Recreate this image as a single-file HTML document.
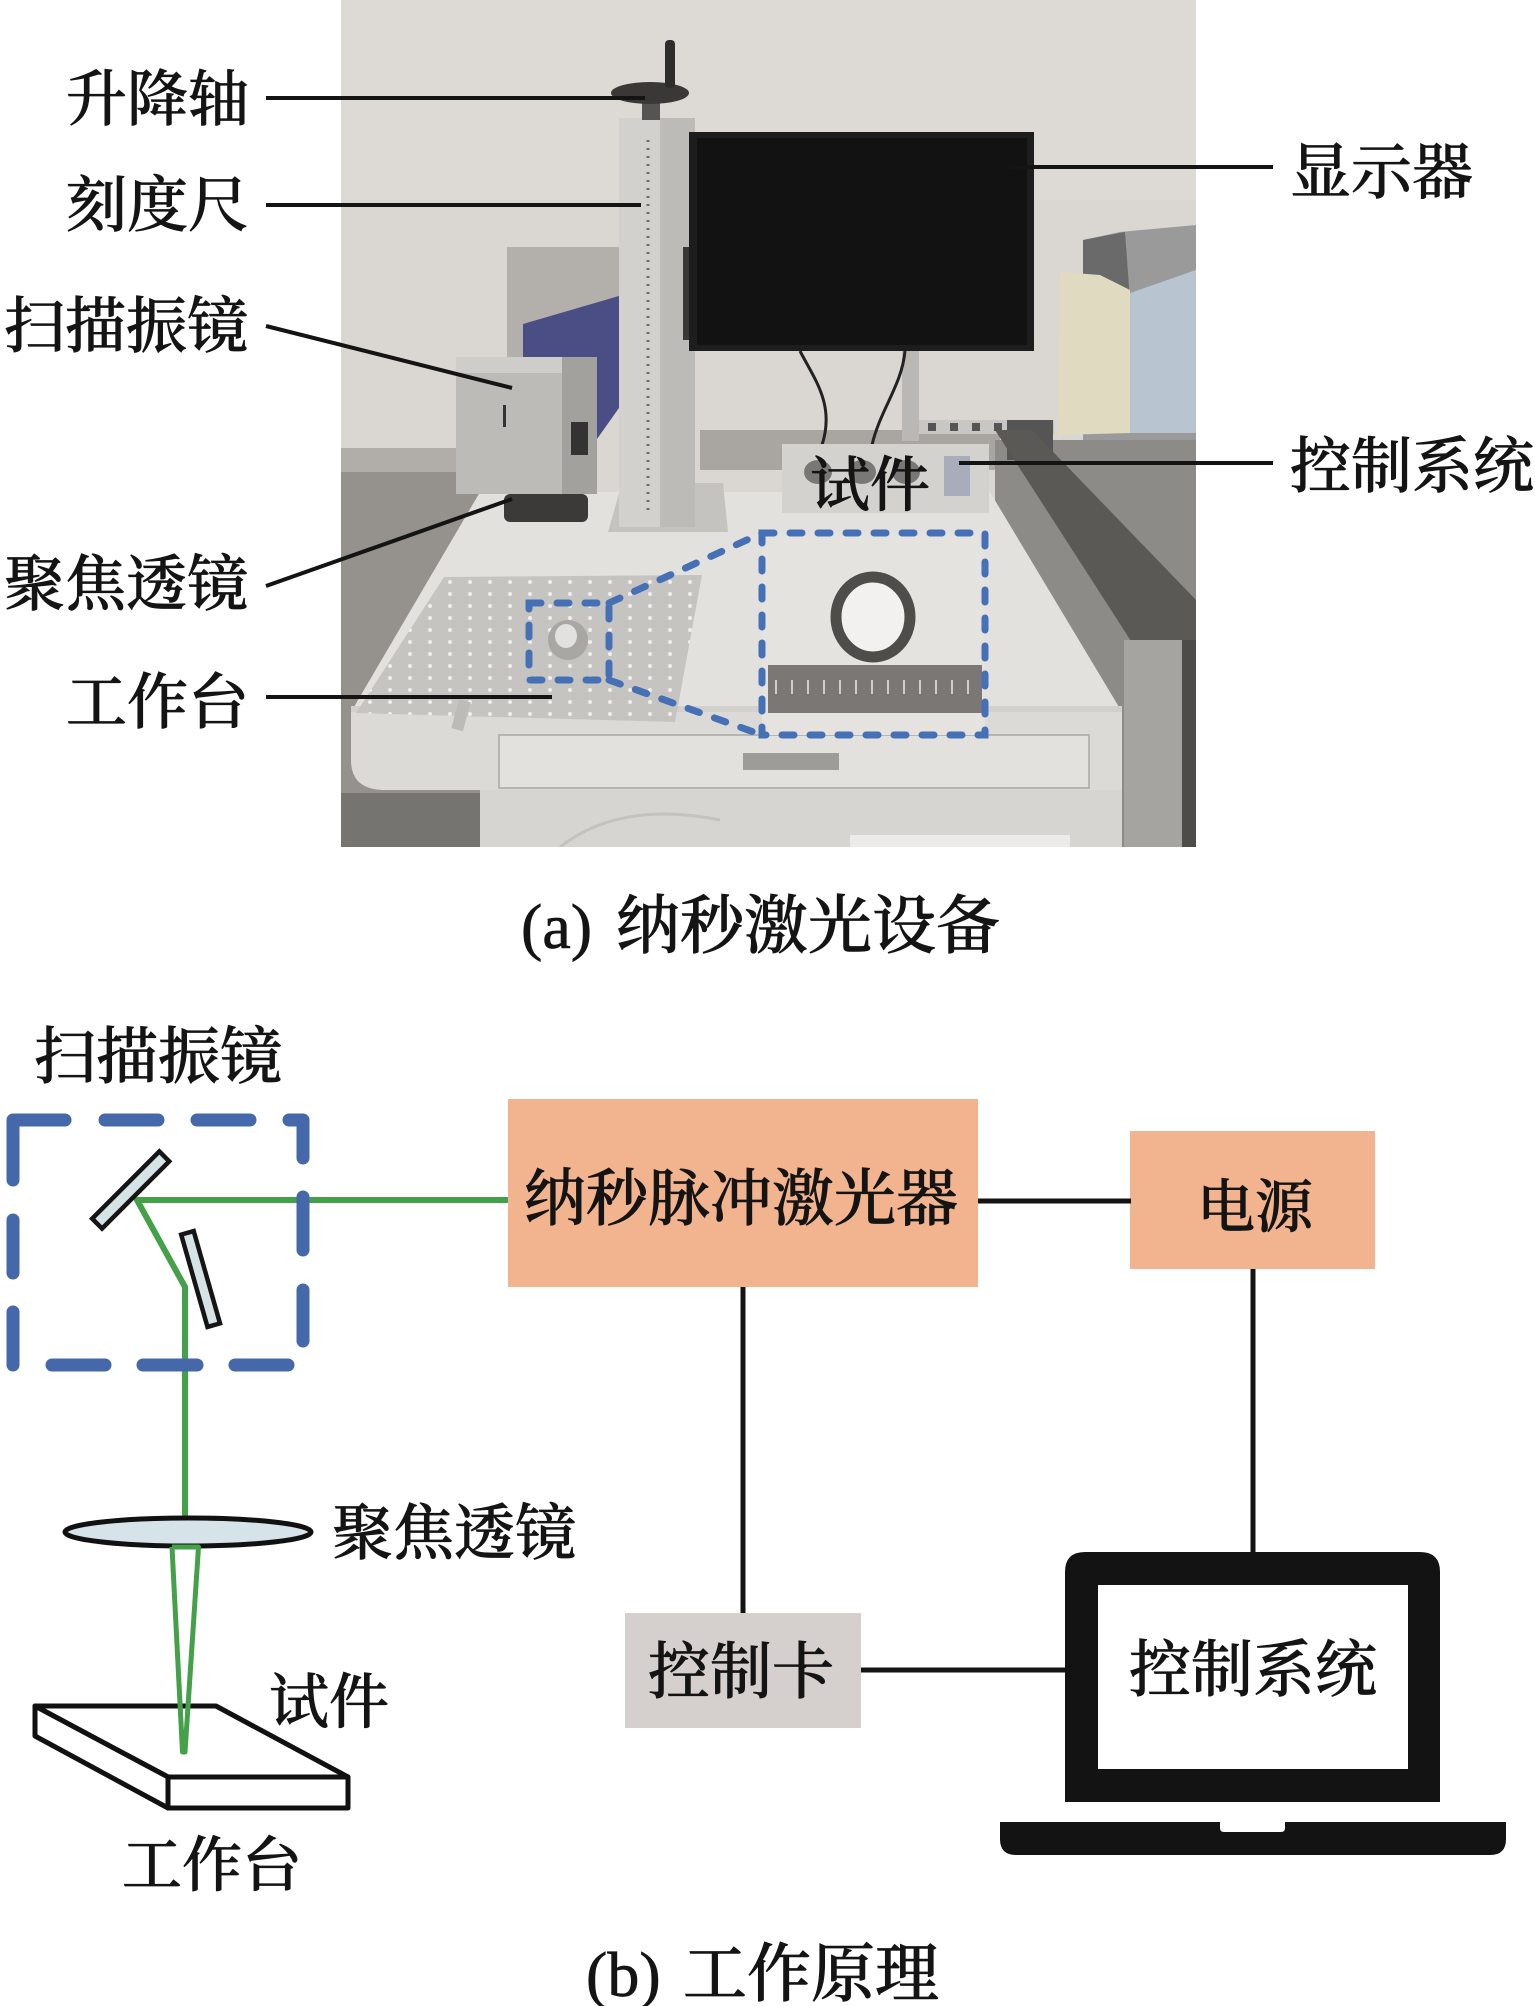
<!DOCTYPE html>
<html><head><meta charset="utf-8"><style>
html,body{margin:0;padding:0;background:#fff;}
svg{display:block;}
text{font-family:"Liberation Serif","Noto Serif CJK SC","Noto Sans CJK SC",serif;fill:#141414;font-weight:500;stroke:#141414;stroke-width:0.7px;}
</style></head><body>
<svg width="1535" height="2006" viewBox="0 0 1535 2006" xmlns="http://www.w3.org/2000/svg">
<defs>
<clipPath id="ph"><rect x="341" y="0" width="855" height="847"/></clipPath>
<pattern id="dots" x="0" y="0" width="20" height="12" patternUnits="userSpaceOnUse">
<rect width="20" height="12" fill="#c6c4c1"/>
<circle cx="10" cy="6" r="2" fill="#efeeec"/>
</pattern>
<pattern id="ticks" x="0" y="0" width="16" height="48" patternUnits="userSpaceOnUse">
<rect width="16" height="48" fill="#7a7774"/>
<rect x="7" y="8" width="2" height="14" fill="#d0cecb"/>
</pattern>
</defs>

<!-- ================= PHOTO ================= -->
<g clip-path="url(#ph)">
<rect x="341" y="0" width="855" height="847" fill="#dad7d2"/>
<rect x="341" y="0" width="855" height="200" fill="#dddad6"/>
<!-- left wall lower -->
<rect x="341" y="448" width="180" height="24" fill="#b1aeaa"/>
<rect x="341" y="472" width="150" height="330" fill="#95928e"/>
<!-- back gray plate -->
<rect x="507" y="247" width="126" height="110" fill="#b3b0ac"/>
<!-- blue housing -->
<polygon points="523,324 636,291 636,384 597,439 570,420 523,357" fill="#4b4d85"/>
<!-- back band behind table -->
<rect x="700" y="430" width="300" height="40" fill="#a9a6a2"/>
<!-- monitor stand & cables -->
<rect x="902" y="351" width="17" height="90" fill="#bab8b5"/>
<path d="M800 351 C815 380 835 405 822 445" stroke="#222" stroke-width="3" fill="none"/>
<path d="M905 351 C902 385 880 410 872 445" stroke="#222" stroke-width="3" fill="none"/>
<!-- sockets -->
<rect x="919" y="420" width="135" height="14" fill="#c9c7c4"/>
<g fill="#555"><rect x="928" y="423" width="8" height="8"/><rect x="950" y="423" width="8" height="8"/><rect x="972" y="423" width="8" height="8"/><rect x="994" y="423" width="8" height="8"/><rect x="1016" y="423" width="8" height="8"/><rect x="1038" y="423" width="8" height="8"/></g>
<!-- right objects -->
<polygon points="1083,240 1120,232 1196,225 1196,440 1083,440" fill="#9a9a9a"/>
<polygon points="1083,240 1125,232 1130,300 1083,290" fill="#6a6a6a"/>
<polygon points="1130,293 1196,270 1196,433 1130,433" fill="#b8c4d0"/>
<polygon points="1060,272 1100,275 1130,290 1130,433 1058,435" fill="#e0dac0"/>
<!-- stainless right -->
<rect x="995" y="440" width="201" height="407" fill="#8d8b88"/>
<rect x="1007" y="420" width="46" height="40" fill="#555"/>
<polygon points="995,430 1032,430 1196,600 1196,655 1140,655" fill="#5b5956"/>
<rect x="1124" y="640" width="72" height="207" fill="#a6a4a1"/>
<rect x="1182" y="640" width="14" height="207" fill="#4e4c49"/>
<!-- table top -->
<polygon points="480,492 990,492 1122,712 351,712" fill="#e3e1de"/>
<rect x="351" y="706" width="771" height="14" fill="#d2d0cd"/>
<!-- cabinet front -->
<path d="M351 712 L1122 712 L1122 790 L385 790 Q351 790 351 760 Z" fill="#dcdad7"/>
<rect x="480" y="790" width="642" height="57" fill="#d7d5d2"/>
<path d="M560 847 Q620 800 720 820" stroke="#c4c2bf" stroke-width="3" fill="none"/>
<rect x="850" y="835" width="220" height="12" fill="#ecebe9"/>
<rect x="341" y="793" width="139" height="54" fill="#767471"/>
<!-- drawer -->
<rect x="499" y="735" width="590" height="53" fill="#e3e1de" stroke="#b7b5b2" stroke-width="2"/>
<rect x="743" y="753" width="96" height="17" fill="#9e9c99"/>
<!-- breadboard -->
<polygon points="444,577 702,575 675,722 356,713" fill="url(#dots)"/>
<rect x="455" y="700" width="12" height="30" fill="#bdbbb8" transform="rotate(15 460 715)"/>
<!-- small workpiece -->
<ellipse cx="568" cy="640" rx="20" ry="20" fill="#a9a7a4"/>
<ellipse cx="566" cy="636" rx="11" ry="12" fill="#e2e1df"/>
<!-- column base -->
<polygon points="622,483 723,483 728,532 608,532" fill="#c5c3c0"/>
<!-- column -->
<rect x="619" y="118" width="76" height="409" fill="#d2d1ce"/>
<rect x="660" y="118" width="35" height="409" fill="#bdbbb8"/>
<line x1="648" y1="140" x2="648" y2="510" stroke="#6e6c69" stroke-width="3" stroke-dasharray="2 6"/>
<!-- handwheel -->
<rect x="642" y="100" width="18" height="20" fill="#555452"/>
<ellipse cx="650" cy="93" rx="39" ry="11" fill="#393836"/>
<rect x="665" y="40" width="10" height="48" rx="4" fill="#2e2d2b"/>
<!-- monitor arm -->
<rect x="683" y="247" width="14" height="93" fill="#383838"/>
<!-- monitor -->
<rect x="689" y="132" width="345" height="219" fill="#1d1d1d"/>
<rect x="697" y="138" width="330" height="207" fill="#121212"/>
<!-- scan head -->
<rect x="456" y="357" width="141" height="137" fill="#bdbbb7"/>
<rect x="456" y="357" width="141" height="16" fill="#cfcdca"/>
<rect x="562" y="357" width="35" height="137" fill="#a3a19e"/>
<rect x="571" y="422" width="17" height="33" fill="#333"/>
<rect x="503" y="405" width="3" height="22" fill="#333"/>
<rect x="504" y="494" width="84" height="28" rx="6" fill="#3b3a38"/>
<!-- control panel -->
<rect x="782" y="444" width="207" height="69" fill="#d4d2cf"/>
<ellipse cx="818" cy="472" rx="14" ry="12" fill="#7a7876"/>
<ellipse cx="862" cy="472" rx="14" ry="12" fill="#7a7876"/>
<ellipse cx="906" cy="472" rx="14" ry="12" fill="#7a7876"/>
<rect x="944" y="456" width="26" height="40" fill="#a9adbb"/>
<!-- inset -->
<rect x="762" y="533" width="223" height="202" fill="#e5e3e0"/>
<ellipse cx="873" cy="617" rx="37" ry="40" fill="#f2f1ef" stroke="#4f4d4a" stroke-width="11"/>
<rect x="768" y="665" width="214" height="48" fill="url(#ticks)"/>
<!-- blue dashed zoom -->
<g fill="none" stroke="#4670b6" stroke-width="7" stroke-linecap="round" stroke-dasharray="12 16">
<rect x="762" y="533" width="223" height="202"/>
<rect x="529" y="603" width="80" height="77"/>
<line x1="609" y1="603" x2="762" y2="533"/>
<line x1="609" y1="680" x2="762" y2="735"/>
</g>
</g>
<text x="810" y="506" font-size="60">试件</text>

<!-- leader lines -->
<g stroke="#141414" stroke-width="4">
<line x1="266" y1="98" x2="645" y2="98"/>
<line x1="266" y1="205" x2="641" y2="205"/>
<line x1="266" y1="326" x2="512" y2="388"/>
<line x1="266" y1="586" x2="512" y2="499"/>
<line x1="266" y1="697" x2="552" y2="697"/>
<line x1="1009" y1="167" x2="1273" y2="167"/>
<line x1="959" y1="463" x2="1273" y2="463"/>
</g>
<g font-size="61">
<text x="66" y="120">升降轴</text>
<text x="66" y="226">刻度尺</text>
<text x="4" y="347">扫描振镜</text>
<text x="4" y="605">聚焦透镜</text>
<text x="66" y="723">工作台</text>
<text x="1290" y="193">显示器</text>
<text x="1290" y="487">控制系统</text>
</g>
<text x="521" y="948" font-size="64">(a)</text>
<text x="616" y="948" font-size="64">纳秒激光设备</text>

<!-- ================= DIAGRAM (b) ================= -->
<text x="34" y="1078" font-size="62">扫描振镜</text>
<!-- green beam -->
<polyline points="508,1200 137,1200 185,1287 185,1518" fill="none" stroke="#45a04a" stroke-width="6" stroke-linejoin="round"/>
<!-- dashed box -->
<g fill="none" stroke="#4468a9" stroke-width="13" stroke-linecap="round" stroke-linejoin="round">
<polyline points="13,1180 13,1120 65,1120"/>
<line x1="105" y1="1120" x2="158" y2="1120"/>
<line x1="197" y1="1120" x2="250" y2="1120"/>
<polyline points="289,1120 303,1120 303,1158"/>
<line x1="303" y1="1197" x2="303" y2="1250"/>
<line x1="303" y1="1290" x2="303" y2="1341"/>
<line x1="52" y1="1365" x2="105" y2="1365"/>
<line x1="143" y1="1365" x2="197" y2="1365"/>
<line x1="235" y1="1365" x2="288" y2="1365"/>
<line x1="13" y1="1220" x2="13" y2="1273"/>
<line x1="13" y1="1312" x2="13" y2="1365"/>
</g>
<!-- mirrors -->
<rect x="83" y="-7" width="95" height="14" fill="#d5e3e7" stroke="#151515" stroke-width="4.5" transform="translate(130.7 1190) rotate(-45) translate(-130.5 0)"/>
<rect x="-48" y="-6.5" width="96" height="13" fill="#d5e3e7" stroke="#151515" stroke-width="4.5" transform="translate(200.6 1279) rotate(74.1)"/>
<!-- lens -->
<ellipse cx="188" cy="1532" rx="123" ry="14" fill="#d6e4e9" stroke="#111" stroke-width="5"/>
<text x="332" y="1554" font-size="61">聚焦透镜</text>
<!-- workpiece -->
<g fill="#fff" stroke="#111" stroke-width="5" stroke-linejoin="round">
<polygon points="35,1706 216,1706 348,1777 168,1777"/>
<polygon points="35,1706 168,1777 168,1808 35,1736"/>
<rect x="168" y="1777" width="180" height="31"/>
</g>
<!-- focused cone -->
<polyline points="172,1547 182.5,1752 185,1752 198.5,1547 172,1547" fill="none" stroke="#45a04a" stroke-width="5" stroke-linejoin="round"/>
<text x="269" y="1723" font-size="60">试件</text>
<text x="122" y="1886" font-size="60">工作台</text>

<!-- boxes -->
<rect x="508" y="1099" width="470" height="188" fill="#f2b48f"/>
<rect x="1130" y="1131" width="245" height="138" fill="#f2b48f"/>
<rect x="625" y="1613" width="236" height="115" fill="#d5cfce"/>
<g stroke="#141414" stroke-width="5">
<line x1="978" y1="1201" x2="1131" y2="1201"/>
<line x1="743" y1="1287" x2="743" y2="1613"/>
<line x1="1253" y1="1269" x2="1253" y2="1552"/>
<line x1="861" y1="1670" x2="1066" y2="1670"/>
</g>
<text x="524" y="1220" font-size="62">纳秒脉冲激光器</text>
<text x="1255" y="1227" font-size="58" text-anchor="middle">电源</text>
<text x="741" y="1693" font-size="62" text-anchor="middle">控制卡</text>
<!-- laptop -->
<path d="M1065 1802 L1065 1572 Q1065 1552 1085 1552 L1420 1552 Q1440 1552 1440 1572 L1440 1802 Z" fill="#131313"/>
<rect x="1098" y="1585" width="310" height="184" fill="#fff"/>
<path d="M1000 1822 L1506 1822 L1506 1839 Q1506 1855 1490 1855 L1016 1855 Q1000 1855 1000 1839 Z" fill="#131313"/>
<path d="M1220 1822 L1285 1822 L1285 1828 Q1285 1832 1281 1832 L1224 1832 Q1220 1832 1220 1828 Z" fill="#fff"/>
<text x="1253" y="1691" font-size="62" text-anchor="middle">控制系统</text>

<text x="586" y="1996" font-size="64">(b)</text>
<text x="683" y="1996" font-size="64">工作原理</text>
</svg>
</body></html>
